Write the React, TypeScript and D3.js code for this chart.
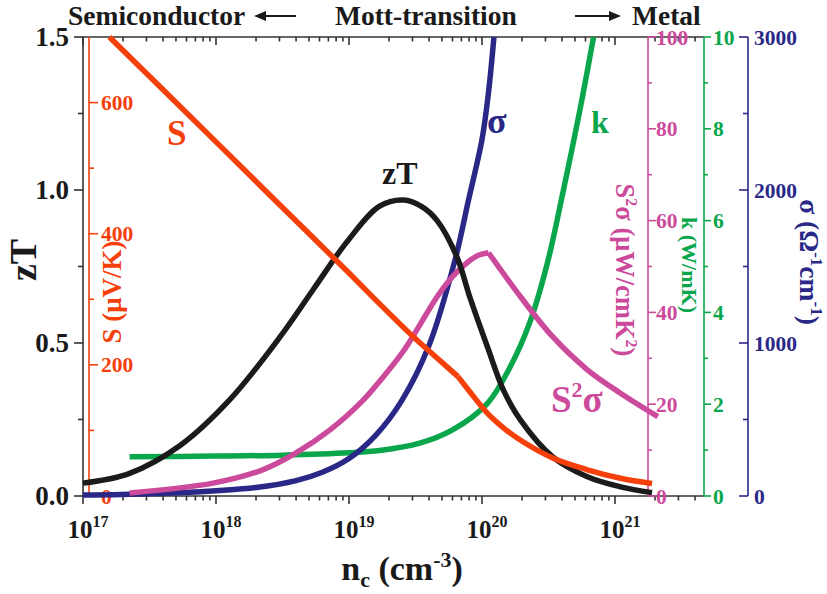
import React from 'react';
import * as d3 from 'd3';

// ---------- data ----------
const NC_ZT = [1e17, 2.24e17, 5.37e17, 1.26e18, 3.02e18, 5.37e18, 9.55e18, 1.7e19, 2.57e19, 3.55e19, 4.6e19, 6.5e19, 8.1e19, 1.1e20, 1.45e20, 1.95e20, 3.4e20, 6.2e20, 1.1e21, 1.9e21];
const ZT = [0.042, 0.074, 0.165, 0.313, 0.519, 0.674, 0.828, 0.947, 0.967, 0.945, 0.90, 0.78, 0.65, 0.487, 0.346, 0.248, 0.128, 0.063, 0.030, 0.011];

const NC_S = [1.58e17, 1e18, 3.16e18, 1e19, 1.7e19, 3.0e19, 4.5e19, 6.6e19, 8.1e19, 1.1e20, 1.45e20, 1.95e20, 3.4e20, 6.2e20, 1.1e21, 1.9e21];
const S = [700, 540, 440, 340, 293, 244, 212, 182, 159, 126, 104, 85, 58, 40, 27, 19];

const NC_SIG = [1e17, 3.16e17, 1e18, 2e18, 4e18, 6.3e18, 1e19, 1.58e19, 2.5e19, 4e19, 6.3e19, 7.9e19, 1e20, 1.12e20, 1.23e20];
const SIG = [6, 15, 35, 55, 100, 155, 245, 395, 625, 985, 1550, 1930, 2330, 2640, 3000];

const NC_K = [2.24e17, 1e18, 3.16e18, 1e19, 1.7e19, 3.4e19, 6e19, 1.1e20, 1.62e20, 2.3e20, 3.1e20, 4.1e20, 5.5e20, 6.9e20];
const K = [0.856, 0.87, 0.89, 0.94, 0.99, 1.15, 1.44, 2.02, 2.8, 3.8, 5.07, 6.67, 8.47, 10.0];

const NC_P = [2.24e17, 9.5e17, 2.24e18, 4e18, 7.2e18, 1.29e19, 1.7e19, 2.6e19, 4.6e19, 6e19, 8.1e19, 9.5e19, 1.12e20, 1.95e20, 3.4e20, 6.2e20, 1.1e21, 2.1e21];
const P = [0.65, 2.8, 5.7, 9.4, 14.4, 21.0, 25.0, 31.8, 43.4, 47.8, 51.3, 52.5, 53.0, 43.4, 34.7, 27.5, 22.4, 17.3];

const X_DOMAIN = [1e17, 4.67e21];
const X_MAJOR = [17, 18, 19, 20, 21];
const ZT_TICKS = ['0.0', '0.5', '1.0', '1.5'];
const S_TICKS = [0, 200, 400, 600];
const P_TICKS = [0, 20, 40, 60, 80, 100];
const K_TICKS = [0, 2, 4, 6, 8, 10];
const SIG_TICKS = [0, 1000, 2000, 3000];

// ---------- styling ----------
const FONT = '"Liberation Serif", "Times New Roman", serif';
const C_S = '#f5400c';
const C_ZT = '#1b1b1b';
const C_SIG = '#2a2886';
const C_K = '#0aa64c';
const C_P = '#cc4a9c';
const C_AX = '#333';

const L = 83, R = 704, T = 37, B = 496;

export default function App() {
  const x = d3.scaleLog().domain(X_DOMAIN).range([L, R]);
  const yZT = d3.scaleLinear().domain([0, 1.5]).range([B, T]);
  const yS = d3.scaleLinear().domain([0, 700]).range([B, T]);
  const yP = d3.scaleLinear().domain([0, 100]).range([B, T]);
  const yK = d3.scaleLinear().domain([0, 10]).range([B, T]);
  const ySig = d3.scaleLinear().domain([0, 3000]).range([B, T]);

  const curve = d3.curveCatmullRom.alpha(0.5);
  const mk = (xs: number[], ys: number[], sy: any) =>
    d3.line<number>().x((_, i) => x(xs[i])).y((_, i) => sy(ys[i])).curve(curve)(ys.map((_, i) => i)) || '';

  const pPeak = P.indexOf(d3.max(P) as number);
  const pathP1 = mk(NC_P.slice(0, pPeak + 1), P.slice(0, pPeak + 1), yP);
  const pathP2 = mk(NC_P.slice(pPeak), P.slice(pPeak), yP);
  const sKink = 7;
  const pathS1 = mk(NC_S.slice(0, sKink + 1), S.slice(0, sKink + 1), yS);
  const pathS2 = mk(NC_S.slice(sKink), S.slice(sKink), yS);

  // log ticks
  const logTicks: { v: number; major: boolean }[] = [];
  for (let d = 17; d <= 21; d++) {
    for (let m = 1; m <= 9; m++) {
      const v = m * Math.pow(10, d);
      if (v <= X_DOMAIN[1]) logTicks.push({ v, major: m === 1 });
    }
  }

  const sw = 5.5;

  const rightAxis = (
    ax: number, scale: any, ticks: number[], step: number, color: string,
    dir: number, majLen: number, minLen: number, labelX: number, key: string
  ) => {
    const [d0, d1] = scale.domain();
    const minors: number[] = [];
    for (let v = d0 + step / 2; v < d1; v += step) minors.push(v);
    return (
      <g key={key}>
        <line x1={ax} x2={ax} y1={T} y2={B} stroke={color} strokeWidth={1.6} />
        {ticks.map((t) => (
          <g key={t}>
            <line x1={ax} x2={ax + dir * majLen} y1={scale(t)} y2={scale(t)} stroke={color} strokeWidth={1.6} />
            <text x={labelX} y={scale(t)} dy="0.35em" fill={color} fontSize={21.5} fontWeight="bold" fontFamily={FONT}>{t}</text>
          </g>
        ))}
        {minors.map((t) => (
          <line key={'m' + t} x1={ax} x2={ax + dir * minLen} y1={scale(t)} y2={scale(t)} stroke={color} strokeWidth={1.6} />
        ))}
      </g>
    );
  };

  const arrowHead = (tipX: number, y: number, dir: number) =>
    `M${tipX},${y} L${tipX - dir * 12},${y - 5} L${tipX - dir * 12},${y + 5} Z`;

  return (
    <svg width={827} height={594} style={{ position: 'absolute', left: 0, top: 0, background: '#fff' }} fontFamily={FONT}>
      <rect width={827} height={594} fill="#fff" />

      {/* title row */}
      <text x={68} y={25} fontSize={27.5} fontWeight="bold" fill="#1a1a1a">Semiconductor</text>
      <line x1={264} x2={296} y1={16} y2={16} stroke="#1a1a1a" strokeWidth={2} />
      <path d={arrowHead(254, 16, -1)} fill="#1a1a1a" />
      <text x={335} y={25} fontSize={27.5} fontWeight="bold" fill="#1a1a1a">Mott-transition</text>
      <line x1={575} x2={612} y1={16} y2={16} stroke="#1a1a1a" strokeWidth={2} />
      <path d={arrowHead(621, 16, 1)} fill="#1a1a1a" />
      <text x={632} y={25} fontSize={27.5} fontWeight="bold" fill="#1a1a1a">Metal</text>

      {/* frame */}
      <line x1={L} x2={R} y1={T} y2={T} stroke={C_AX} strokeWidth={1.6} />
      <line x1={L} x2={R} y1={B} y2={B} stroke={C_AX} strokeWidth={1.6} />
      <line x1={L} x2={L} y1={T} y2={B} stroke={C_AX} strokeWidth={1.6} />

      {/* x ticks */}
      {logTicks.map((t, i) => (
        <g key={i}>
          <line x1={x(t.v)} x2={x(t.v)} y1={B} y2={B + (t.major ? 8 : 4.5)} stroke={C_AX} strokeWidth={1.6} />
          <line x1={x(t.v)} x2={x(t.v)} y1={T} y2={T + (t.major ? 8 : 4.5)} stroke={C_AX} strokeWidth={1.6} />
        </g>
      ))}
      {X_MAJOR.map((e) => (
        <text key={e} x={x(Math.pow(10, e)) + 5} y={538} textAnchor="middle" fontSize={25} fontWeight="bold" fill="#1a1a1a">
          10<tspan fontSize={16} dy={-11}>{e}</tspan>
        </text>
      ))}
      <text x={402} y={580} textAnchor="middle" fontSize={34} fontWeight="bold" fill="#1a1a1a">
        n<tspan fontSize={22} dy={7}>c</tspan><tspan dy={-7}> (cm</tspan><tspan fontSize={22} dy={-13}>-3</tspan><tspan dy={13}>)</tspan>
      </text>

      {/* left zT axis */}
      {ZT_TICKS.map((t) => (
        <g key={t}>
          <line x1={L} x2={L - 9} y1={yZT(+t)} y2={yZT(+t)} stroke={C_AX} strokeWidth={1.6} />
          <text x={69} y={yZT(+t)} dy="0.35em" textAnchor="end" fontSize={27} fontWeight="bold" fill="#1a1a1a">{t}</text>
        </g>
      ))}
      {[0.25, 0.75, 1.25].map((t) => (
        <line key={t} x1={L} x2={L - 5} y1={yZT(t)} y2={yZT(t)} stroke={C_AX} strokeWidth={1.6} />
      ))}
      <text transform="translate(36,260) rotate(-90)" textAnchor="middle" fontSize={38} fontWeight="bold" fill="#1a1a1a">zT</text>

      {/* S axis */}
      {rightAxis(89, yS, S_TICKS, 200, C_S, 1, 9, 5, 101, 'S')}
      <text transform="translate(121,292) rotate(-90)" textAnchor="middle" fontSize={27} fontWeight="bold" fill={C_S}>S (μV/K)</text>

      {/* S2sigma axis */}
      {rightAxis(648, yP, P_TICKS, 20, C_P, 1, 8, 4, 656, 'P')}
      <text transform="translate(616,270) rotate(90)" textAnchor="middle" fontSize={26.5} fontWeight="bold" fill={C_P}>
        S<tspan fontSize={16} dy={-10}>2</tspan><tspan dy={10}>σ (μW/cmK</tspan><tspan fontSize={16} dy={-10}>2</tspan><tspan dy={10}>)</tspan>
      </text>

      {/* k axis */}
      {rightAxis(704, yK, K_TICKS, 2, C_K, 1, 7, 4, 713, 'K')}
      <text transform="translate(682,265) rotate(90)" textAnchor="middle" fontSize={22} fontWeight="bold" fill={C_K}>k (W/mK)</text>

      {/* sigma axis */}
      {rightAxis(748, ySig, SIG_TICKS, 1000, C_SIG, -1, 9, 5, 754, 'SIG')}
      <text transform="translate(800,262) rotate(90)" textAnchor="middle" fontSize={27.5} fontWeight="bold" fill={C_SIG}>
        σ (Ω<tspan fontSize={17} dy={-11}>-1</tspan><tspan dy={11}>cm</tspan><tspan fontSize={17} dy={-11}>-1</tspan><tspan dy={11}>)</tspan>
      </text>

      {/* curves */}
      <path d={mk(NC_K, K, yK)} fill="none" stroke={C_K} strokeWidth={sw} />
      <path d={mk(NC_SIG, SIG, ySig)} fill="none" stroke={C_SIG} strokeWidth={sw} />
      <path d={pathP1} fill="none" stroke={C_P} strokeWidth={sw} />
      <path d={pathP2} fill="none" stroke={C_P} strokeWidth={sw} />
      <path d={mk(NC_ZT, ZT, yZT)} fill="none" stroke={C_ZT} strokeWidth={sw} />
      <path d={pathS1} fill="none" stroke={C_S} strokeWidth={sw} />
      <path d={pathS2} fill="none" stroke={C_S} strokeWidth={sw} />

      {/* annotations */}
      <text x={167} y={145} fontSize={35} fontWeight="bold" fill={C_S}>S</text>
      <text x={487} y={133} fontSize={36} fontWeight="bold" fill={C_SIG}>σ</text>
      <text x={591} y={133} fontSize={32} fontWeight="bold" fill={C_K}>k</text>
      <text x={382} y={184} fontSize={32} fontWeight="bold" fill="#1a1a1a">zT</text>
      <text x={551} y={412} fontSize={37} fontWeight="bold" fill={C_P}>
        S<tspan fontSize={22} dy={-15}>2</tspan><tspan dy={15}>σ</tspan>
      </text>
    </svg>
  );
}
